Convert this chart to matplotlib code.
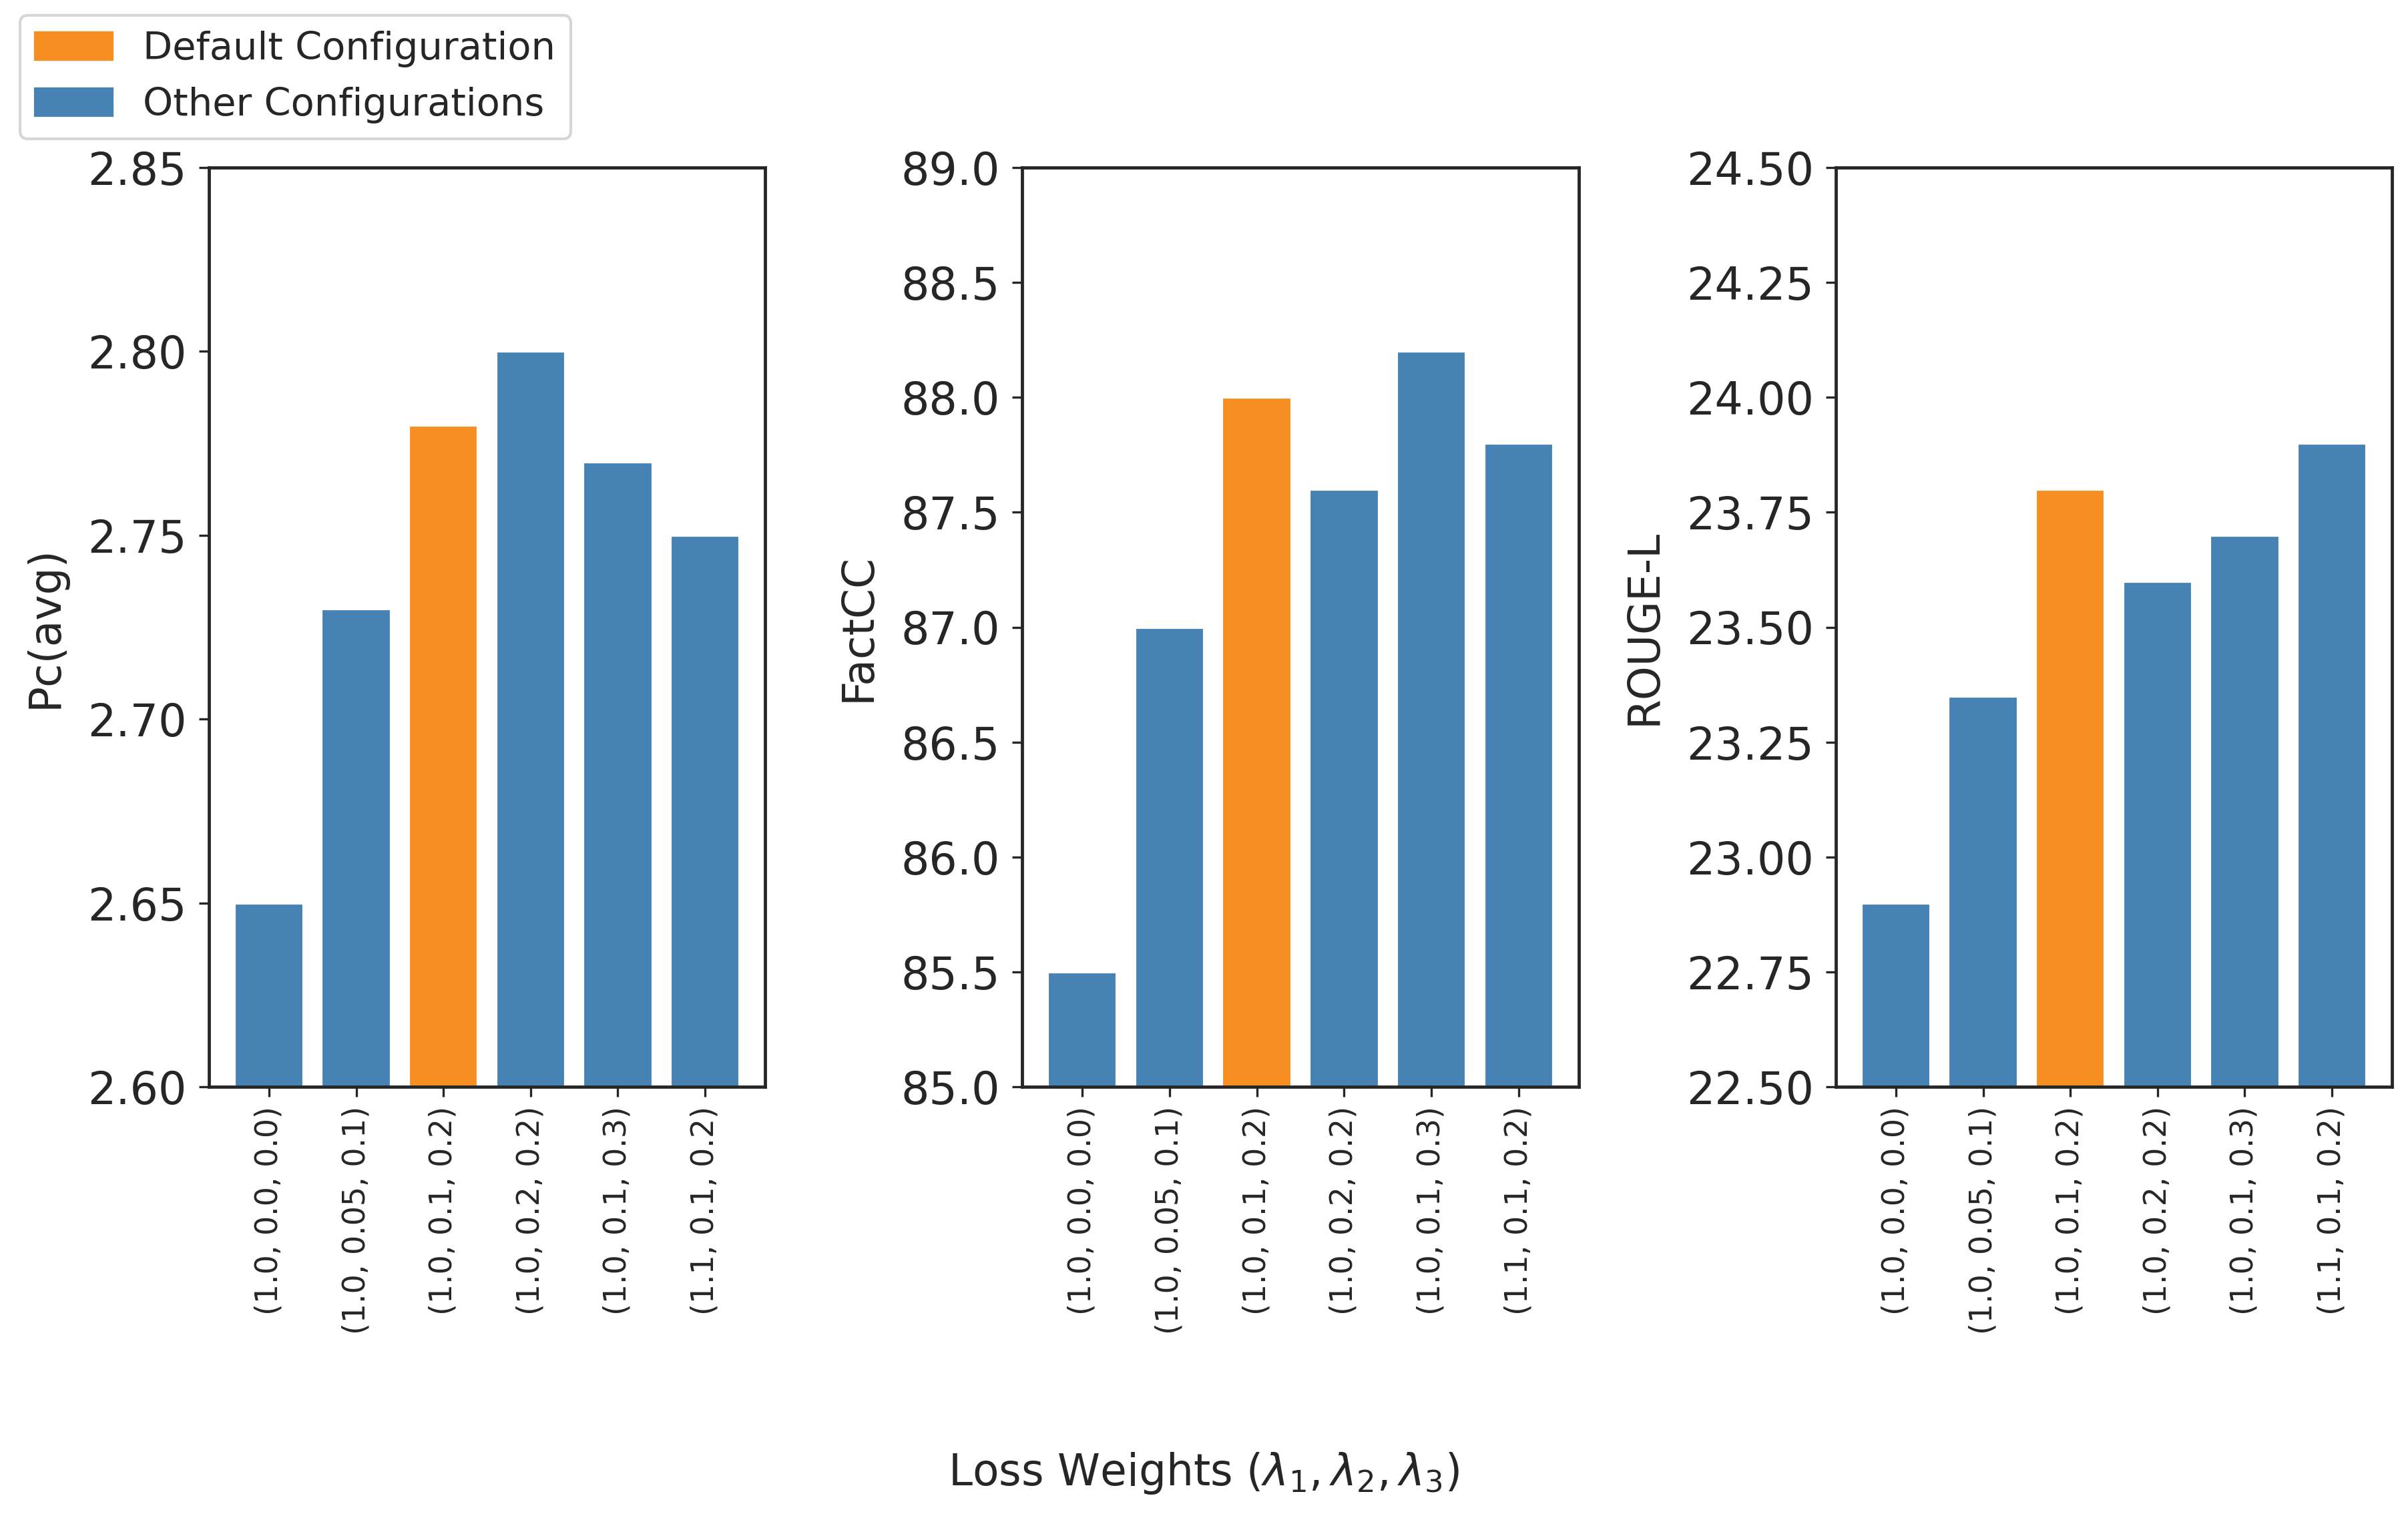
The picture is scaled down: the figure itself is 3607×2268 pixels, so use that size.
import matplotlib
matplotlib.use('Agg')
import matplotlib.pyplot as plt
import matplotlib.patches as mpatches
import numpy as np
import seaborn as sns

configs = ['(1.0, 0.0, 0.0)', '(1.0, 0.05, 0.1)', '(1.0, 0.1, 0.2)',
           '(1.0, 0.2, 0.2)', '(1.0, 0.1, 0.3)', '(1.1, 0.1, 0.2)']
default_idx = 2

pc_avg = [2.65, 2.73, 2.78, 2.80, 2.77, 2.75]
factcc = [85.5, 87.0, 88.0, 87.6, 88.2, 87.8]
rouge_l = [22.9, 23.35, 23.8, 23.6, 23.7, 23.9]

metric_names = ['Pc(avg)', 'FactCC', 'ROUGE-L']
metric_values = [pc_avg, factcc, rouge_l]
y_limits = [(2.60, 2.85), (85.0, 89.0), (22.5, 24.5)]
y_steps = [0.05, 0.5, 0.25]
y_formats = ['{:.2f}', '{:.1f}', '{:.2f}']

orange = '#F68E22'
blue = '#4682B4'


def main():
    sns.set_style('ticks')
    plt.rcParams['font.family'] = ['DejaVu Sans']

    W, H = 3607, 2268
    fig = plt.figure(figsize=(W / 300, H / 300), dpi=300)
    # axes boxes in pixels (left, right)
    boxes = [(313, 1146), (1531, 2365), (2750, 3583)]
    top, bottom = 251, 1628

    x = np.arange(len(configs))
    colors = [orange if i == default_idx else blue for i in range(len(configs))]

    for k in range(3):
        l, r = boxes[k]
        ax = fig.add_axes([l / W, 1 - bottom / H, (r - l) / W, (bottom - top) / H])
        ax.bar(x, metric_values[k], width=0.8, color=colors)
        lo, hi = y_limits[k]
        ax.set_ylim(lo, hi)
        ticks = np.arange(lo, hi + y_steps[k] / 2, y_steps[k])
        ax.set_yticks(ticks)
        ax.set_yticklabels([y_formats[k].format(t) for t in ticks], fontsize=16)
        ax.set_xticks(x)
        ax.set_xticklabels(configs, rotation=90, fontsize=11)
        ax.tick_params(axis='y', pad=4.5)
        ax.set_ylabel(metric_names[k], fontsize=15.5, labelpad=7.5)
        for sp in ax.spines.values():
            sp.set_linewidth(1.15)
            sp.set_color('#262626')

    fig.text(0.5, 0.027, r'Loss Weights ($\lambda_1, \lambda_2, \lambda_3$)',
             ha='center', va='center', fontsize=15.5, color='#262626')

    handles = [mpatches.Patch(color=orange, label='Default Configuration'),
               mpatches.Patch(color=blue, label='Other Configurations')]
    fig.legend(handles=handles, loc='upper left', bbox_to_anchor=(30 / W, 1 - 23 / H),
               borderaxespad=0, fontsize=13.8, frameon=True)

    fig.savefig('out.png', dpi=300)


if __name__ == '__main__':
    main()
